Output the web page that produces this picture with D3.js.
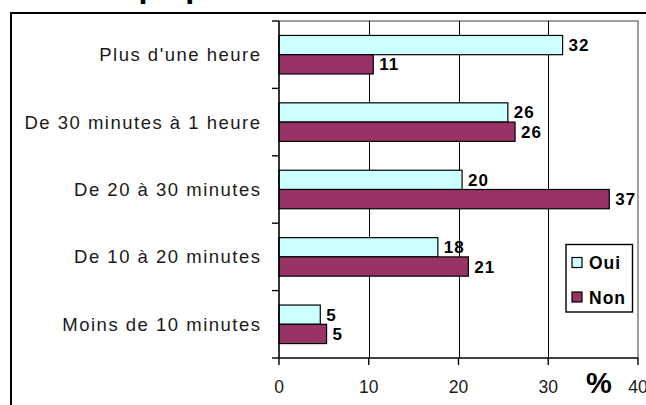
<!DOCTYPE html>
<html>
<head>
<meta charset="utf-8">
<script src="https://cdn.jsdelivr.net/npm/d3@7"></script>
<style>
html,body{margin:0;padding:0;background:#fff;overflow:hidden;}
svg{display:block;}
</style>
</head>
<body>
<script>
// ---- data ----
const categories = ["Plus d'une heure", "De 30 minutes à 1 heure", "De 20 à 30 minutes", "De 10 à 20 minutes", "Moins de 10 minutes"];
const seriesNames = ["Oui", "Non"];
const oui = [31.6, 25.5, 20.4, 17.7, 4.6];
const non = [10.5, 26.3, 36.8, 21.1, 5.3];
const xTicks = [0, 10, 20, 30, 40];
const axisUnit = "%";
const titleText = "Temps passé";

const colors = {Oui: "#CCFFFF", Non: "#993366"};
const font = "'Liberation Sans', Arial, sans-serif";

const W = 646, H = 405;
const svg = d3.select("body").append("svg").attr("width", W).attr("height", H);

// clipped title (only descenders visible)
svg.append("text").attr("x", 74).attr("y", -3)
  .attr("font-family", font).attr("font-weight", "bold").attr("font-size", 32.5)
  .attr("fill", "#000").text(titleText);

// outer frame
svg.append("rect").attr("x", 11).attr("y", 13).attr("width", 800).attr("height", 600)
  .attr("fill", "none").attr("stroke", "#000").attr("stroke-width", 2);

const plot = {left: 279, right: 638, top: 21, bottom: 358};
const x = d3.scaleLinear().domain([0, 40]).range([plot.left, plot.right]);
const y = d3.scaleBand().domain(categories).range([plot.top, plot.bottom]).padding(0);
const yi = d3.scaleBand().domain(seriesNames).range([0, y.bandwidth()]).paddingInner(0).paddingOuter(0.75);

// plot border (gray)
svg.append("path")
  .attr("d", `M${plot.left},${plot.top}H${plot.right}V${plot.bottom}`)
  .attr("fill", "none").attr("stroke", "#808080").attr("stroke-width", 1.5);

// gridlines
svg.append("g").selectAll("line").data(xTicks.filter(d => d > 0 && d < 40)).join("line")
  .attr("x1", d => Math.round(x(d)) + 0.5).attr("x2", d => Math.round(x(d)) + 0.5)
  .attr("y1", plot.top).attr("y2", plot.bottom)
  .attr("stroke", "#000").attr("stroke-width", 1);

// bars
const rows = categories.map((c, i) => ({cat: c, Oui: oui[i], Non: non[i]}));
const bars = [];
rows.forEach(r => seriesNames.forEach(s => bars.push({cat: r.cat, s, v: r[s]})));

svg.append("g").selectAll("rect").data(bars).join("rect")
  .attr("x", x(0))
  .attr("y", d => y(d.cat) + yi(d.s))
  .attr("width", d => x(d.v) - x(0))
  .attr("height", yi.bandwidth())
  .attr("fill", d => colors[d.s])
  .attr("stroke", "#000").attr("stroke-width", 1.2);

// value labels
svg.append("g").selectAll("text").data(bars).join("text")
  .attr("x", d => x(d.v) + 6)
  .attr("y", d => y(d.cat) + yi(d.s) + yi.bandwidth() / 2 + 6)
  .attr("font-family", font).attr("font-weight", "bold").attr("font-size", 17)
  .attr("letter-spacing", 1)
  .attr("fill", "#000")
  .text(d => Math.round(d.v));

// y axis
const yAxis = svg.append("g");
yAxis.append("line").attr("x1", plot.left).attr("x2", plot.left)
  .attr("y1", plot.top).attr("y2", plot.bottom).attr("stroke", "#000").attr("stroke-width", 1.6);
const bounds = categories.map(c => y(c)).concat([plot.bottom]);
yAxis.selectAll("line.tick").data(bounds).join("line").attr("class", "tick")
  .attr("x1", plot.left - 7).attr("x2", plot.left)
  .attr("y1", d => d).attr("y2", d => d).attr("stroke", "#000").attr("stroke-width", 1.4);
yAxis.selectAll("text").data(categories).join("text")
  .attr("x", 261.5).attr("y", d => y(d) + y.bandwidth() / 2 + 6.5)
  .attr("text-anchor", "end")
  .attr("font-family", font).attr("font-size", 18.5).attr("letter-spacing", 1.5)
  .attr("fill", "#1a1a1a").text(d => d);

// x axis
const xAxis = svg.append("g");
xAxis.append("line").attr("x1", plot.left).attr("x2", plot.right)
  .attr("y1", plot.bottom).attr("y2", plot.bottom).attr("stroke", "#000").attr("stroke-width", 1.6);
xAxis.selectAll("line.tick").data(xTicks).join("line").attr("class", "tick")
  .attr("x1", d => x(d)).attr("x2", d => x(d))
  .attr("y1", plot.bottom).attr("y2", plot.bottom + 7).attr("stroke", "#000").attr("stroke-width", 1.4);
xAxis.selectAll("text").data(xTicks).join("text")
  .attr("x", d => x(d)).attr("y", 393)
  .attr("text-anchor", "middle")
  .attr("font-family", font).attr("font-size", 17.5)
  .attr("fill", "#1a1a1a").text(d => d);

// unit label
svg.append("text").attr("x", 586).attr("y", 392.5)
  .attr("font-family", font).attr("font-weight", "bold").attr("font-size", 29)
  .attr("fill", "#000").text(axisUnit);

// legend
const lg = svg.append("g");
lg.append("rect").attr("x", 566).attr("y", 244.5).attr("width", 66.5).attr("height", 67.5)
  .attr("fill", "#fff").attr("stroke", "#000").attr("stroke-width", 1.4);
const legendRows = [{s: "Oui", cy: 262.5}, {s: "Non", cy: 297}];
lg.selectAll("rect.sw").data(legendRows).join("rect").attr("class", "sw")
  .attr("x", 572).attr("y", d => d.cy - 5).attr("width", 10).attr("height", 10)
  .attr("fill", d => colors[d.s]).attr("stroke", "#000").attr("stroke-width", 1.2);
lg.selectAll("text").data(legendRows).join("text")
  .attr("x", 589).attr("y", d => d.cy + 6.5)
  .attr("font-family", font).attr("font-weight", "bold").attr("font-size", 17.5)
  .attr("letter-spacing", 1)
  .attr("fill", "#000").text(d => d.s);
</script>
</body>
</html>
